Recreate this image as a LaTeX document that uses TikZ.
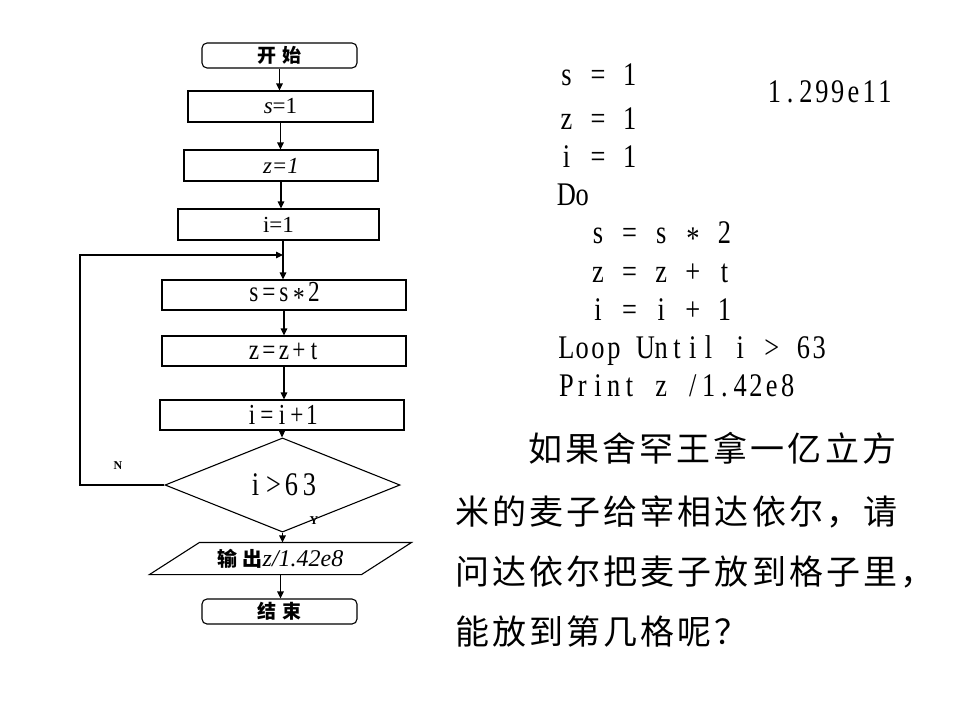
\documentclass[tikz,border=0pt]{standalone}
\usepackage{fontspec}
\usetikzlibrary{arrows.meta,shapes.geometric}
\setmainfont{Liberation Serif}
\newfontfamily\codefont{Liberation Serif}[FakeStretch=0.8]
\newfontfamily\cjk{Noto Sans CJK SC}
\newfontfamily\cjkt{Noto Sans CJK SC}[LetterSpace=9]
\newlength\cellw
\setlength\cellw{15.8pt}
\newcommand\mchar[1]{\makebox[\cellw][c]{#1}}
\def\monoline#1{\monoloop#1\relax}
\def\monoloop#1{\ifx#1\relax\else\mchar{#1}\expandafter\monoloop\fi}
\newcommand\cast{\raisebox{-6pt}{*}}
\begin{document}
\begin{tikzpicture}[x=1pt,y=-1pt,
  line width=1.1pt,
  arr/.style={-{Triangle[length=7pt,width=6.5pt]}},
  term/.style={draw, rounded corners=5pt, minimum width=155pt, minimum height=25pt, inner sep=0pt},
  procbox/.style={draw, inner sep=0pt, minimum height=31pt},
  lat/.style={font=\fontsize{23}{23}\selectfont},
  cbox/.style={font=\codefont\fontsize{29}{29}\selectfont\setlength\cellw{15pt}},
  lab/.style={font=\bfseries\fontsize{12}{12}\selectfont, inner sep=0pt},
  code/.style={font=\codefont\fontsize{33}{33}\selectfont, inner sep=0pt, anchor=base west},
  para/.style={font=\cjkt\fontsize{34}{34}\selectfont, inner sep=0pt, anchor=base west}]
\useasboundingbox (0,0) rectangle (960,720);

% flowchart
\node[term] (start) at (279.5,55.5) {\cjk\bfseries\fontsize{19}{19}\selectfont 开\hspace{7pt}始};
\node[procbox, lat, minimum width=185pt] (s1) at (280.5,106.5) {\textit{s}=1};
\node[procbox, lat, minimum width=194pt] (z1) at (281,165.5) {\textit{z=1}};
\node[procbox, lat, minimum width=201pt] (i1) at (278.5,224.5) {i=1};
\coordinate (join) at (283,255);
\coordinate (loopc) at (80,255);
\node[procbox, cbox, minimum width=244pt, minimum height=30pt] (ss) at (284,295) {\monoline{s=s\cast2}};
\node[procbox, cbox, minimum width=244pt, minimum height=30pt] (zz) at (284,351) {\monoline{z=z+t}};
\node[procbox, cbox, minimum width=244pt, minimum height=30pt] (ii) at (282,415) {\monoline{i=i+1}};
\node[draw, diamond, inner sep=0pt, minimum width=235pt, minimum height=50pt, font=\codefont\fontsize{33}{33}\selectfont\setlength\cellw{18pt}] (dec) at (282.5,485) {\monoline{i>63}};
\node[inner sep=0pt, minimum width=211pt, minimum height=31pt] (out) at (280.5,558.5)
  {{\cjk\bfseries\fontsize{20}{20}\selectfont 输\hspace{5pt}出}{\fontsize{24}{24}\selectfont\itshape z/1.42e8}};
\draw ([xshift=25pt]out.north west) -- ([xshift=25pt]out.north east) -- ([xshift=-25pt]out.south east) -- ([xshift=-25pt]out.south west) -- cycle;
\node[term] (stop) at (279.5,611.5) {\cjk\bfseries\fontsize{19}{19}\selectfont 结\hspace{7pt}束};

\node[lab] (nlab) at (118,466) {N};
\node[lab] (ylab) at (314,521) {Y};

% connectors
\draw[arr] (start.south) -- (start.south |- s1.north);
\draw[arr] (s1.south) -- (s1.south |- z1.north);
\draw[arr] (z1.south) -- (z1.south |- i1.north);
\draw (i1.south -| join) -- (join);
\draw[arr] (join) -- (join |- ss.north);
\draw[arr] (ss.south) -- (ss.south |- zz.north);
\draw[arr] (zz.south) -- (zz.south |- ii.north);
\draw[arr] (ii.south) -- (ii.south |- dec.north);
\draw[arr] (dec.west) -| (loopc) -- (join);
\draw[arr] (dec.south) -- (dec.south |- out.north);
\draw[arr] (out.south) -- (out.south |- stop.north);

% program text
\node[code] (c1) at (558,85) {\monoline{s~=~1}};
\node[code] (res) at (766,102) {\monoline{1.299e11}};
\node[code] (c2) at (558,129) {\monoline{z~=~1}};
\node[code] (c3) at (558,167) {\monoline{i~=~1}};
\node[code] (c4) at (558,205) {\monoline{Do}};
\node[code] (c5) at (558,243) {\monoline{~~s~=~s~\cast~2}};
\node[code] (c6) at (558,282) {\monoline{~~z~=~z~+~t}};
\node[code] (c7) at (558,320) {\monoline{~~i~=~i~+~1}};
\node[code] (c8) at (558,358) {\monoline{Loop~Until~i~>~63}};
\node[code] (c9) at (558,396) {\monoline{Print~z~/1.42e8}};

% question
\node[para] (q1) at (528,461) {如果舍罕王拿一亿立方};
\node[para] (q2) at (455,524) {米的麦子给宰相达依尔，请};
\node[para] (q3) at (455,584) {问达依尔把麦子放到格子里，};
\node[para] (q4) at (455,644) {能放到第几格呢？};
\end{tikzpicture}
\end{document}
